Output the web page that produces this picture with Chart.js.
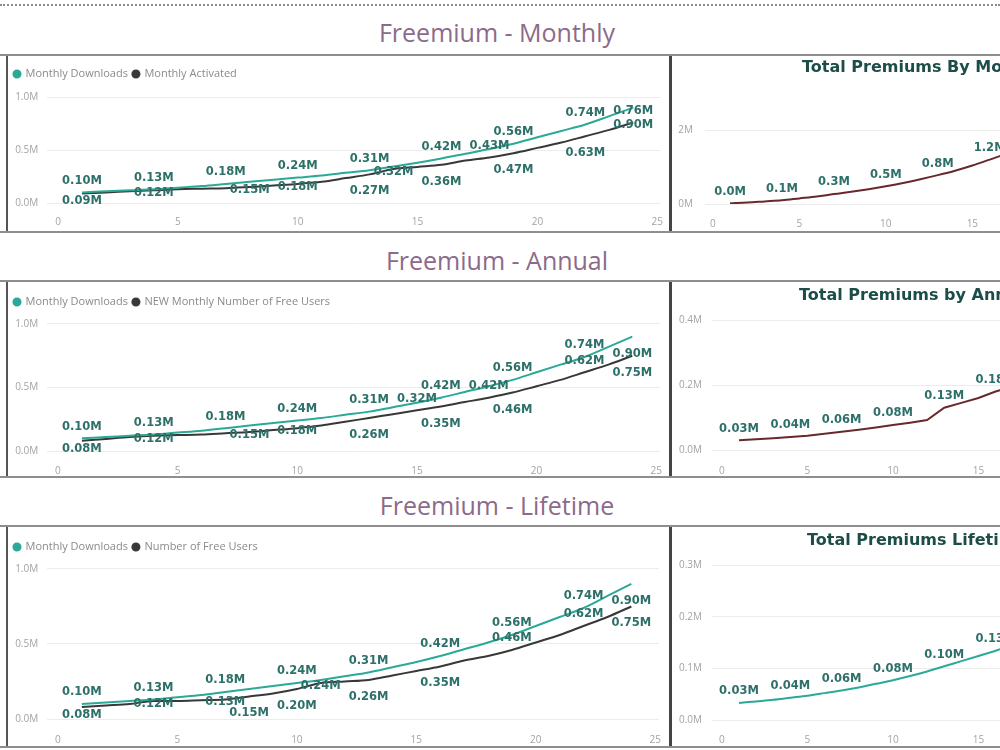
<!DOCTYPE html>
<html>
<head>
<meta charset="utf-8">
<title>Freemium dashboard</title>
<script src="https://cdn.jsdelivr.net/npm/chart.js@4.4.1/dist/chart.umd.min.js"></script>
<style>
  html, body { margin: 0; padding: 0; background: #fff; }
  body { position: relative; width: 1000px; height: 750px; overflow: hidden; font-family: 'Open Sans', sans-serif; }
  .dots { position: absolute; left: 0; top: 4px; width: 1000px; border-top: 2px dotted #8c8c8c; }
  .section { position: absolute; left: 0; width: 994px; text-align: center; font-size: 25px; line-height: 30px; color: #8c6a8a; }
  .row { position: absolute; left: 0; width: 1000px; border-top: 2px solid #8e8e8e; border-bottom: 2px solid #8e8e8e; box-sizing: border-box; z-index: 2; pointer-events: none; }
  .row .lft { position: absolute; left: 6px; top: 0; bottom: 0; width: 2px; background: #555; }
  .row .mid { position: absolute; left: 669px; top: 0; bottom: 0; width: 3px; background: #454545; }
  canvas { position: absolute; z-index: 1; }
  .ptitle { position: absolute; white-space: nowrap; font: bold 16px 'DejaVu Sans', sans-serif; line-height: 18px; color: #1d4d48; z-index: 3; }
</style>
</head>
<body>
<div class="dots"></div>

<div class="section" style="top:17px">Freemium - Monthly</div>
<div class="row" style="top:54px;height:179px"><div class="lft"></div><div class="mid"></div></div>
<canvas id="freeMonthly" width="660" height="175" style="left:8px;top:56px"></canvas>
<canvas id="premMonthly" width="490" height="175" style="left:673px;top:56px"></canvas>
<div class="ptitle" style="left:802px;top:58px">Total Premiums By Monthly</div>

<div class="section" style="top:245px">Freemium - Annual</div>
<div class="row" style="top:280px;height:198px"><div class="lft"></div><div class="mid"></div></div>
<canvas id="freeAnnual" width="660" height="194" style="left:8px;top:283px"></canvas>
<canvas id="premAnnual" width="490" height="194" style="left:673px;top:283px"></canvas>
<div class="ptitle" style="left:799px;top:286px">Total Premiums by Annual</div>

<div class="section" style="top:490px">Freemium - Lifetime</div>
<div class="row" style="top:525px;height:223px"><div class="lft"></div><div class="mid"></div></div>
<canvas id="freeLifetime" width="660" height="218" style="left:8px;top:528px"></canvas>
<canvas id="premLifetime" width="490" height="218" style="left:673px;top:528px"></canvas>
<div class="ptitle" style="left:807px;top:531px">Total Premiums Lifetime</div>

<script>
// ---- data (values in millions) ----
const months = [1, 2, 3, 4, 5, 6, 7, 8, 9, 10, 11, 12, 13, 14, 15, 16, 17, 18, 19, 20, 21, 22, 23, 24];
const xTicks = [0, 5, 10, 15, 20, 25];
const freeTicks = [0, 0.5, 1.0];

const downloads        = [0.10, 0.11, 0.12, 0.13, 0.145, 0.16, 0.18, 0.20, 0.22, 0.24, 0.26, 0.285, 0.31, 0.345, 0.38, 0.42, 0.465, 0.51, 0.56, 0.62, 0.68, 0.74, 0.82, 0.90];
const monthlyActivated = [0.09, 0.10, 0.11, 0.12, 0.13, 0.135, 0.14, 0.15, 0.165, 0.18, 0.20, 0.235, 0.27, 0.32, 0.34, 0.36, 0.40, 0.43, 0.47, 0.52, 0.57, 0.63, 0.69, 0.76];
const annualNewFree    = [0.08, 0.095, 0.11, 0.12, 0.125, 0.13, 0.14, 0.15, 0.165, 0.18, 0.20, 0.23, 0.26, 0.29, 0.32, 0.35, 0.385, 0.42, 0.46, 0.51, 0.56, 0.62, 0.68, 0.75];
const lifetimeFree     = [0.08, 0.09, 0.10, 0.12, 0.12, 0.125, 0.13, 0.15, 0.17, 0.20, 0.24, 0.25, 0.26, 0.29, 0.32, 0.35, 0.39, 0.42, 0.46, 0.51, 0.56, 0.62, 0.68, 0.75];

const premMonthly  = [0.02, 0.04, 0.07, 0.10, 0.15, 0.20, 0.27, 0.33, 0.40, 0.48, 0.57, 0.67, 0.78, 0.90, 1.04, 1.20, 1.36, 1.54, 1.73, 1.94, 2.16, 2.40, 2.65, 2.90];
const premAnnual   = [0.030, 0.033, 0.036, 0.040, 0.044, 0.050, 0.056, 0.062, 0.069, 0.077, 0.084, 0.092, 0.130, 0.145, 0.160, 0.180, 0.195, 0.210, 0.225, 0.240, 0.260, 0.280, 0.300, 0.320];
const premLifetime = [0.033, 0.036, 0.039, 0.043, 0.047, 0.052, 0.057, 0.063, 0.070, 0.077, 0.085, 0.094, 0.104, 0.114, 0.124, 0.134, 0.146, 0.158, 0.171, 0.185, 0.200, 0.216, 0.233, 0.250];

// months that carry a data label, and which side of the line it sits on
// a = above, b = below, c = on the line, d = just under
const dlMonths  = [1, 4, 7, 10, 13, 16, 19, 22, 24];
const dlPos     = ['a', 'a', 'a', 'a', 'a', 'a', 'a', 'a', 'b'];
const actMonths = [1, 4, 8, 10, 13, 14, 16, 18, 19, 22, 24];
const actPos    = ['d', 'c', 'c', 'c', 'b', 'c', 'b', 'a', 'b', 'b', 'a'];
const newMonths = [1, 4, 8, 10, 13, 15, 16, 18, 19, 22, 24];
const newPos    = ['d', 'c', 'c', 'c', 'b', 'a', 'b', 'a', 'b', 'a', 'b'];
const lifMonths = [1, 4, 7, 8, 10, 11, 13, 16, 19, 22, 24];
const lifPos    = ['d', 'c', 'c', 'b', 'b', 'c', 'b', 'b', 'a', 'a', 'b'];
const premMonths = [1, 4, 7, 10, 13, 16, 19, 22, 24];
const premPos    = ['a', 'a', 'a', 'a', 'a', 'a', 'a', 'a', 'a'];

// ---- styling ----
const TEAL   = '#2aaa96';
const DARK   = '#383838';
const MAROON = '#68292d';
const LABEL  = '#2d7069';
const TICK   = '#a3a3a3';
const GRID   = '#ececec';
const OFFSETS = { a: -11.5, b: 17, c: 3, d: 8 };

Chart.defaults.font.family = "'Open Sans', sans-serif";

const pts = arr => months.map((m, i) => ({ x: m, y: arr[i] }));

const pointLabels = {
  id: 'pointLabels',
  afterDatasetsDraw(chart, args, opts) {
    const { ctx } = chart;
    ctx.save();
    ctx.font = "bold 11.5px 'DejaVu Sans'";
    ctx.fillStyle = LABEL;
    ctx.textAlign = 'center';
    ctx.textBaseline = 'middle';
    chart.data.datasets.forEach((ds, i) => {
      if (!ds.labelMonths) return;
      const meta = chart.getDatasetMeta(i);
      ds.labelMonths.forEach((m, k) => {
        const idx = months.indexOf(m);
        const el = meta.data[idx];
        const txt = ds.data[idx].y.toFixed(opts.digits) + 'M';
        ctx.fillText(txt, el.x, el.y + OFFSETS[ds.labelPos[k]]);
      });
    });
    ctx.restore();
  },
};

function series(label, values, color, lblMonths, lblPos, smooth) {
  return {
    label, data: pts(values),
    borderColor: color, backgroundColor: color,
    borderWidth: 2, pointRadius: 0,
    cubicInterpolationMode: smooth ? 'monotone' : 'default', tension: 0,
    labelMonths: lblMonths, labelPos: lblPos,
  };
}

function lineChart(id, geo, datasets, y, withLegend) {
  return new Chart(document.getElementById(id), {
    type: 'line',
    data: { datasets },
    options: {
      responsive: false, animation: false,
      layout: { padding: geo.pad },
      plugins: {
        legend: withLegend ? {
          position: 'top', align: 'start',
          labels: { usePointStyle: true, pointStyle: 'circle', boxWidth: 6, boxHeight: 5, padding: 5,
                    color: '#8a8a8a', font: { size: 11 } },
        } : { display: false },
        tooltip: { enabled: false },
        pointLabels: { digits: y.digits },
      },
      scales: {
        x: {
          type: 'linear', min: geo.xMin, max: 25.15,
          grid: { display: false }, border: { display: false },
          afterBuildTicks: s => { s.ticks = xTicks.map(v => ({ value: v })); },
          afterFit: s => { s.height = geo.xAxisH; },
          ticks: { color: TICK, font: { size: 10 }, padding: geo.xPad, maxRotation: 0 },
        },
        y: {
          min: 0, max: y.max,
          grid: { color: GRID, drawTicks: false }, border: { display: false },
          afterBuildTicks: s => { s.ticks = y.ticks.map(v => ({ value: v })); },
          afterFit: s => { s.width = geo.yAxisW; },
          ticks: { color: TICK, font: { size: 10 }, padding: geo.yPad, callback: y.fmt },
        },
      },
    },
    plugins: [pointLabels],
  });
}

const fmt1 = v => v.toFixed(1) + 'M';

// ---- left: freemium users ----
lineChart('freeMonthly',
  { pad: { left: 1, top: 7.5, right: 6.4, bottom: 0 }, yAxisW: 38.2, xAxisH: 28, xPad: 5, yPad: 9, xMin: -0.45 },
  [series('Monthly Downloads', downloads, TEAL, dlMonths, dlPos, true),
   series('Monthly Activated', monthlyActivated, DARK, actMonths, actPos, true)],
  { max: 1.071, ticks: freeTicks, fmt: fmt1, digits: 2 }, true);

lineChart('freeAnnual',
  { pad: { left: 1, top: 8.5, right: 6.4, bottom: 0 }, yAxisW: 38.2, xAxisH: 26, xPad: 6, yPad: 9, xMin: -0.45 },
  [series('Monthly Downloads', downloads, TEAL, dlMonths, dlPos, true),
   series('NEW Monthly Number of Free Users', annualNewFree, DARK, newMonths, newPos, true)],
  { max: 1.051, ticks: freeTicks, fmt: fmt1, digits: 2 }, true);

lineChart('freeLifetime',
  { pad: { left: 1, top: 8.5, right: 6.4, bottom: 0 }, yAxisW: 38.2, xAxisH: 27, xPad: 7, yPad: 9, xMin: -0.45 },
  [series('Monthly Downloads', downloads, TEAL, dlMonths, dlPos, true),
   series('Number of Free Users', lifetimeFree, DARK, lifMonths, lifPos, true)],
  { max: 1.043, ticks: freeTicks, fmt: fmt1, digits: 2 }, true);

// ---- right: premiums ----
lineChart('premMonthly',
  { pad: { left: 0, top: 74, right: 15, bottom: 0 }, yAxisW: 32, xAxisH: 27, xPad: 6, yPad: 12, xMin: -0.45 },
  [series('Total Premiums', premMonthly, MAROON, premMonths, premPos, true)],
  { max: 2, ticks: [0, 2], fmt: v => v + 'M', digits: 1 }, false);

lineChart('premAnnual',
  { pad: { left: 0, top: 37, right: 11, bottom: 0 }, yAxisW: 39, xAxisH: 27, xPad: 7, yPad: 10, xMin: -0.58 },
  [series('Total Premiums', premAnnual, MAROON, premMonths, premPos, false)],
  { max: 0.4, ticks: [0, 0.2, 0.4], fmt: fmt1, digits: 2 }, false);

lineChart('premLifetime',
  { pad: { left: 0, top: 37, right: 11, bottom: 0 }, yAxisW: 39, xAxisH: 26, xPad: 6, yPad: 10, xMin: -0.58 },
  [series('Total Premiums', premLifetime, TEAL, premMonths, premPos, true)],
  { max: 0.3, ticks: [0, 0.1, 0.2, 0.3], fmt: fmt1, digits: 2 }, false);
</script>
</body>
</html>
